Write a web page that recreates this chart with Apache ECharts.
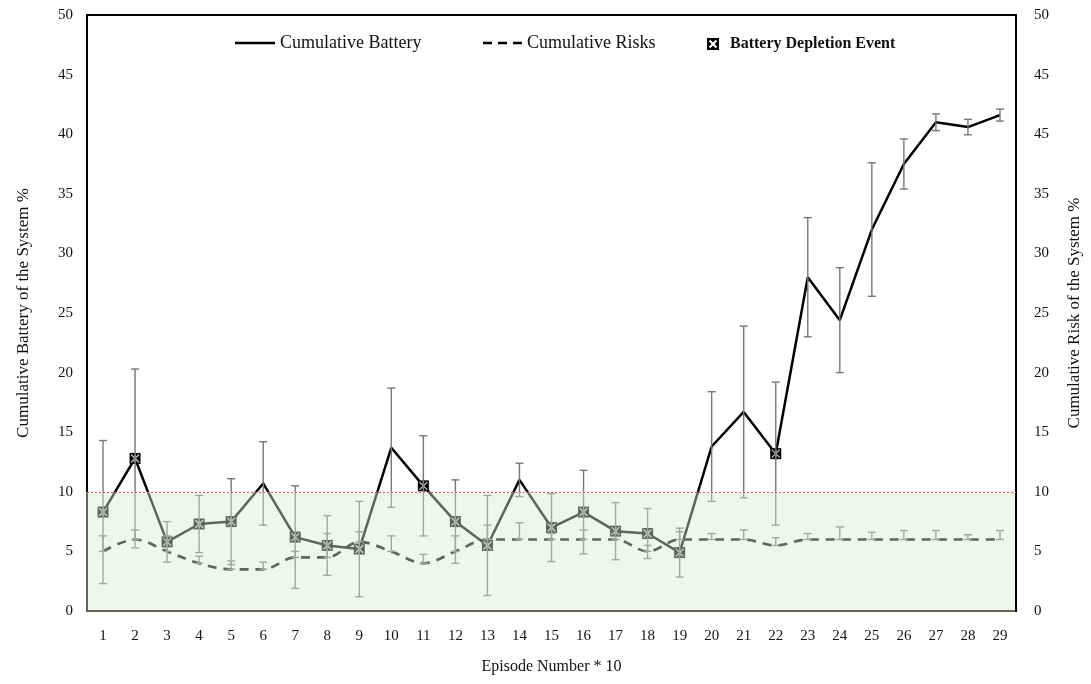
<!DOCTYPE html>
<html>
<head>
<meta charset="utf-8">
<script src="https://cdn.jsdelivr.net/npm/echarts@6/dist/echarts.min.js"></script>
<style>
  html, body { margin: 0; padding: 0; background: #ffffff; }
  #chart { width: 1091px; height: 684px; }
</style>
</head>
<body>
<div id="chart"></div>
<script>
// Episode numbers (x 10)
const episodes = ['1','2','3','4','5','6','7','8','9','10','11','12','13','14','15','16','17','18','19','20','21','22','23','24','25','26','27','28','29'];

// Cumulative battery of the system (%) and its error half-width
const battery    = [8.3, 12.8, 5.8, 7.3, 7.5, 10.7, 6.2, 5.5, 5.2, 13.7, 10.5, 7.5, 5.5, 11.0, 7.0, 8.3, 6.7, 6.5, 4.9, 13.8, 16.7, 13.2, 28.0, 24.4, 32.0, 37.5, 41.0, 40.6, 41.6];
const batteryErr = [6.0, 7.5, 1.7, 2.4, 3.6, 3.5, 4.3, 2.5, 4.0, 5.0, 4.2, 3.5, 4.2, 1.4, 2.85, 3.5, 2.4, 2.1, 2.05, 4.6, 7.2, 6.0, 5.0, 4.4, 5.6, 2.1, 0.7, 0.65, 0.5];

// Cumulative risk of the system (%) and its upper error
const risk      = [5, 6, 5, 4, 3.5, 3.5, 4.5, 4.5, 5.8, 5, 4, 5, 6, 6, 6, 6, 6, 5, 6, 6, 6, 5.5, 6, 6, 6, 6, 6, 6, 6];
const riskErrUp = [1.3, 0.8, 1.3, 0.6, 0.7, 0.6, 0.5, 2.0, 0.85, 1.3, 0.75, 1.3, 1.2, 1.4, 0.5, 0.8, 0.5, 0.5, 0.65, 0.5, 0.8, 0.65, 0.5, 1.05, 0.6, 0.75, 0.75, 0.4, 0.75];

// Episodes where the battery ran out
const depletionEpisodes = ['1','2','3','4','5','7','8','9','11','12','13','15','16','17','18','19','22'];

// Safe zone upper bound and axis tick labels
const safeLimit = 10;
const leftTickLabels  = ['0','5','10','15','20','25','30','35','40','45','50'];
const rightTickLabels = ['0','5','10','15','20','25','30','35','45','45','50'];

const serif = '"Liberation Serif", "Times New Roman", serif';

const batteryErrData = battery.map((v, i) => [i, v - batteryErr[i], v + batteryErr[i]]);
const riskErrData = risk.map((v, i) => [i, v, v + riskErrUp[i]]);
const depletionData = depletionEpisodes.map(e => {
  const i = episodes.indexOf(e);
  return [i, battery[i]];
});

// legend icons: solid stroke, three dashes, and a square with an X cut out
const solidIcon = 'path://M0,0L40,0L40,2.5L0,2.5Z';
const dashedIcon = 'path://M0,0L9,0L9,2.5L0,2.5Z M15,0L24,0L24,2.5L15,2.5Z M30,0L39,0L39,2.5L30,2.5Z';
const depletionIcon = 'path://M0,0L100,0L100,100L0,100Z' +
  'M15,27L38,50L15,73L27,85L50,62L73,85L85,73L62,50L85,27L73,15L50,38L27,15Z';

function errorBarRenderer(color) {
  return function (params, api) {
    const x = api.value(0);
    const lo = api.coord([x, api.value(1)]);
    const hi = api.coord([x, api.value(2)]);
    const cap = 4;
    const style = { stroke: color, lineWidth: 1.4 };
    return {
      type: 'group',
      children: [
        { type: 'line', shape: { x1: lo[0], y1: lo[1], x2: hi[0], y2: hi[1] }, style },
        { type: 'line', shape: { x1: hi[0] - cap, y1: hi[1], x2: hi[0] + cap, y2: hi[1] }, style },
        { type: 'line', shape: { x1: lo[0] - cap, y1: lo[1], x2: lo[0] + cap, y2: lo[1] }, style }
      ]
    };
  };
}

const chart = echarts.init(document.getElementById('chart'), null, { renderer: 'canvas' });

chart.setOption({
  backgroundColor: '#ffffff',
  animation: false,
  textStyle: { fontFamily: serif },
  grid: {
    left: 87, right: 73, top: 15, bottom: 73,
    show: true, borderColor: '#000000', borderWidth: 2, backgroundColor: 'transparent'
  },
  legend: [
    {
      data: [{ name: 'Cumulative Battery', icon: solidIcon }],
      left: 235, top: 34, padding: 0, itemWidth: 40, itemHeight: 2.5, itemGap: 0,
      textStyle: { fontFamily: serif, fontSize: 18, color: '#111' }
    },
    {
      data: [{ name: 'Cumulative Risks', icon: dashedIcon }],
      left: 483, top: 34, padding: 0, itemWidth: 39, itemHeight: 2.5, itemGap: 0,
      textStyle: { fontFamily: serif, fontSize: 18, color: '#111' }
    },
    {
      data: [{ name: 'Battery Depletion Event', icon: depletionIcon }],
      left: 707, top: 36, padding: 0, itemWidth: 12, itemHeight: 12, itemGap: 0,
      textStyle: { fontFamily: serif, fontSize: 16, fontWeight: 'bold', color: '#111', padding: [0, 0, 0, 6] }
    }
  ],
  xAxis: {
    type: 'category',
    data: episodes,
    boundaryGap: true,
    name: 'Episode Number * 10',
    nameLocation: 'middle',
    nameGap: 48,
    nameTextStyle: { fontFamily: serif, fontSize: 16, color: '#111' },
    axisLine: { show: true, lineStyle: { color: '#000', width: 2 } },
    axisTick: { show: false },
    axisLabel: { fontFamily: serif, fontSize: 15, color: '#111', margin: 18 },
    splitLine: { show: false }
  },
  yAxis: [
    {
      type: 'value', min: 0, max: 50, interval: 5,
      name: 'Cumulative Battery of the System %',
      nameLocation: 'middle', nameGap: 55,
      nameTextStyle: { fontFamily: serif, fontSize: 17, color: '#111' },
      axisLine: { show: false }, axisTick: { show: false }, splitLine: { show: false },
      axisLabel: {
        fontFamily: serif, fontSize: 15, color: '#111', margin: 14,
        formatter: v => leftTickLabels[Math.round(v / 5)]
      }
    },
    {
      type: 'value', min: 0, max: 50, interval: 5, position: 'right',
      name: 'Cumulative Risk of the System %',
      nameLocation: 'middle', nameGap: 50,
      nameTextStyle: { fontFamily: serif, fontSize: 17, color: '#111' },
      axisLine: { show: false }, axisTick: { show: false }, splitLine: { show: false },
      axisLabel: {
        fontFamily: serif, fontSize: 15, color: '#111', margin: 18,
        formatter: v => rightTickLabels[Math.round(v / 5)]
      }
    }
  ],
  series: [
    {
      name: 'Cumulative Battery',
      type: 'line',
      data: battery,
      symbol: 'none',
      lineStyle: { color: '#000000', width: 2.5 },
      itemStyle: { color: '#000000' },
      z: 3
    },
    {
      name: 'Cumulative Risks',
      type: 'line',
      yAxisIndex: 1,
      data: risk,
      symbol: 'none',
      smooth: 0.35,
      lineStyle: { color: '#000000', width: 2.7, type: [9, 7] },
      itemStyle: { color: '#000000' },
      z: 3
    },
    {
      name: 'Battery Depletion Event',
      type: 'scatter',
      data: depletionData,
      symbol: 'rect',
      symbolSize: 11,
      itemStyle: { color: '#000000', opacity: 1 },
      z: 4
    },
    {
      name: 'depletion-star',
      type: 'scatter',
      data: depletionData,
      symbol: 'path://M0,0L10,10M10,0L0,10M5,0L5,10',
      symbolSize: 8,
      itemStyle: { color: 'rgba(0,0,0,0)', borderColor: '#c4c4c4', borderWidth: 1.3, opacity: 1 },
      z: 5
    },
    {
      name: 'battery-error',
      type: 'custom',
      data: batteryErrData,
      encode: { x: 0, y: [1, 2] },
      renderItem: errorBarRenderer('#777777'),
      z: 6
    },
    {
      name: 'risk-error',
      type: 'custom',
      yAxisIndex: 1,
      data: riskErrData,
      encode: { x: 0, y: [1, 2] },
      renderItem: errorBarRenderer('#777777'),
      z: 6
    },
    {
      // translucent safe-zone band from 0 to the safe limit, with its dotted bound
      name: 'safe-zone',
      type: 'custom',
      data: [[0, 0, safeLimit]],
      encode: { x: 0, y: [1, 2] },
      silent: true,
      z: 20,
      renderItem: function (params, api) {
        const cs = params.coordSys;
        const yTop = api.coord([0, api.value(2)])[1];
        const yBottom = api.coord([0, api.value(1)])[1];
        const yLine = Math.round(yTop) + 0.5;
        return {
          type: 'group',
          children: [
            {
              type: 'rect',
              shape: { x: cs.x - 1, y: yTop, width: cs.width, height: yBottom - yTop + 1 },
              style: { fill: 'rgba(221,233,214,0.43)' }
            },
            {
              type: 'line',
              shape: { x1: cs.x, y1: yLine, x2: cs.x + cs.width, y2: yLine },
              style: { stroke: '#e05a5a', lineWidth: 1, lineDash: [2, 2] }
            }
          ]
        };
      }
    }
  ]
});
</script>
</body>
</html>
